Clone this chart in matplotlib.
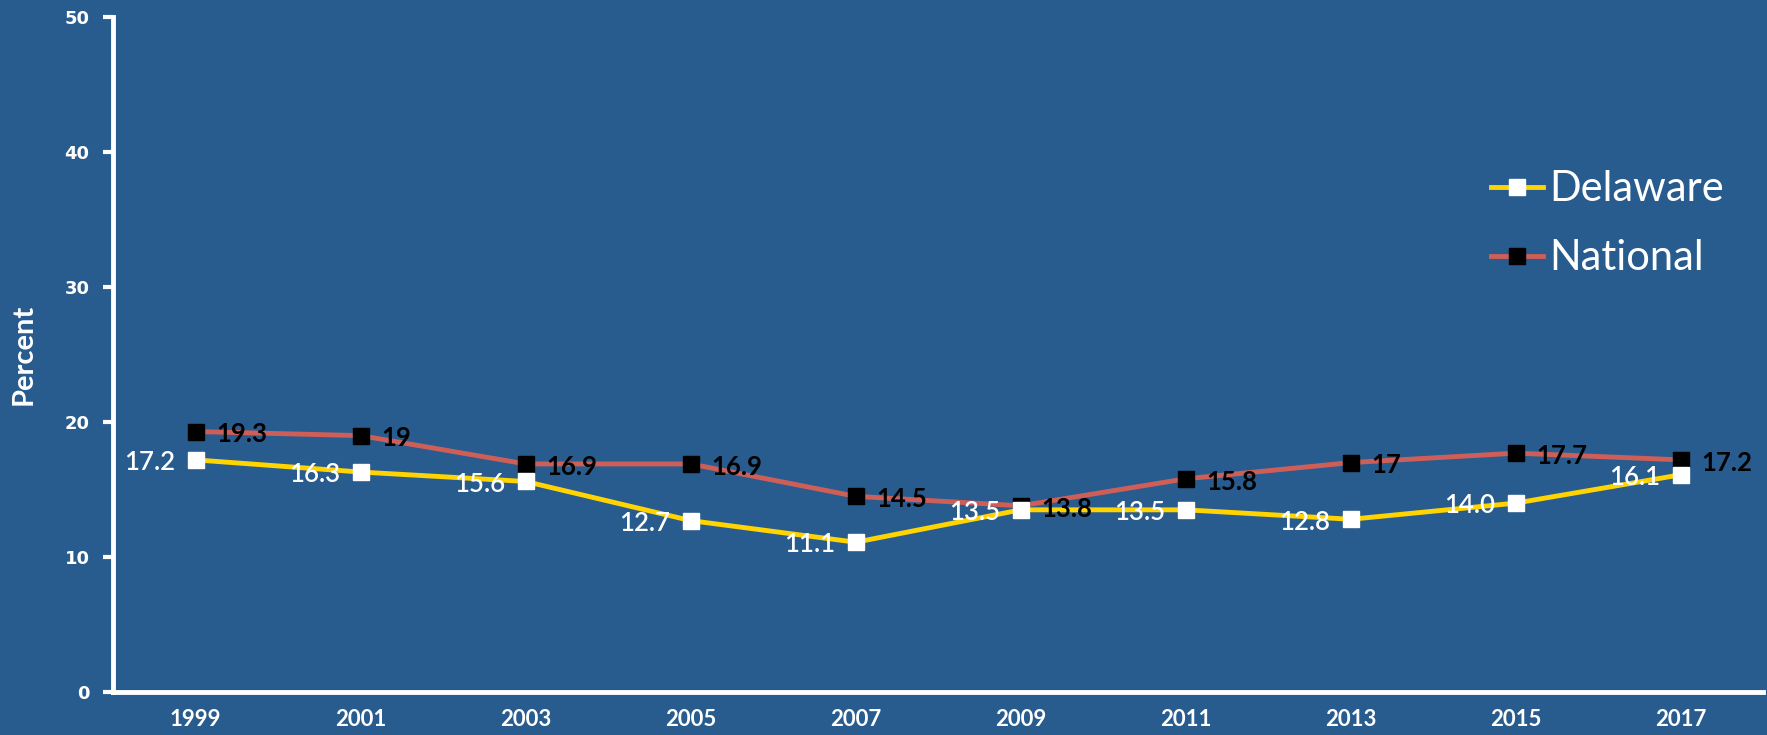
import numpy as np
import matplotlib
matplotlib.use("Agg")
from matplotlib import pyplot as plt

years = ['1999', '2001', '2003', '2005', '2007', '2009', '2011', '2013', '2015', '2017']
delaware = [17.2, 16.3, 15.6, 12.7, 11.1, 13.5, 13.5, 12.8, 14.0, 16.1]
national = [19.3, 19, 16.9, 16.9, 14.5, 13.8, 15.8, 17, 17.7, 17.2]
delaware_labels = ['17.2', '16.3', '15.6', '12.7', '11.1', '13.5', '13.5', '12.8', '14.0', '16.1']
national_labels = ['19.3', '19', '16.9', '16.9', '14.5', '13.8', '15.8', '17', '17.7', '17.2']

bg = '#285B8E'
yellow = '#FFD400'
red = '#CD5F58'
font = 'Lato'

fig = plt.figure(figsize=(17.67, 7.35), dpi=100)
fig.patch.set_facecolor(bg)
ax = fig.add_axes([0.064, 0.0585, 0.934, 0.918])
ax.set_facecolor(bg)

x = np.arange(len(years))
ax.plot(x, national, color=red, lw=3.5, marker='s', markersize=11,
        markerfacecolor='black', markeredgecolor='black', label='National', zorder=3)
ax.plot(x, delaware, color=yellow, lw=3.5, marker='s', markersize=11,
        markerfacecolor='white', markeredgecolor='white', label='Delaware', zorder=4)

# data labels
for i in range(len(years)):
    ax.annotate(delaware_labels[i], (x[i], delaware[i]), xytext=(-15, -2),
                textcoords='offset points', ha='right', va='center',
                color='white', fontsize=18.5, family=font, fontweight='semibold', zorder=5)
    ax.annotate(national_labels[i], (x[i], national[i]), xytext=(15, -2),
                textcoords='offset points', ha='left', va='center',
                color='black', fontsize=18.5, fontweight='bold', family=font, zorder=5)

ax.set_xlim(-0.5, len(years) - 0.5)
ax.set_ylim(0, 50)
ax.set_xticks(x)
ax.set_xticklabels(years, fontsize=16, fontweight='bold', color='white', family=font)
ax.set_yticks([0, 10, 20, 30, 40, 50])
ax.tick_params(axis='x', length=0, pad=12)
ax.tick_params(axis='y', length=7, width=3, color='white', labelcolor='white',
               labelsize=13, pad=10)
for lab in ax.get_yticklabels():
    lab.set_fontweight('bold')
    lab.set_family('DejaVu Sans')

for s in ['top', 'right']:
    ax.spines[s].set_visible(False)
for s in ['left', 'bottom']:
    ax.spines[s].set_color('white')
    ax.spines[s].set_linewidth(3.5)

ax.set_ylabel('Percent', color='white', fontsize=21, fontweight='bold', family=font, labelpad=20)

handles, labels = ax.get_legend_handles_labels()
leg = ax.legend(handles[::-1], labels[::-1], loc='center left', bbox_to_anchor=(0.835, 0.694),
                frameon=False, handlelength=1.25, handletextpad=0.15,
                labelspacing=0.75, borderpad=0, borderaxespad=0,
                prop={'family': font, 'size': 30})
for t in leg.get_texts():
    t.set_color('white')

fig.savefig('out.png', dpi=100, facecolor=bg)
